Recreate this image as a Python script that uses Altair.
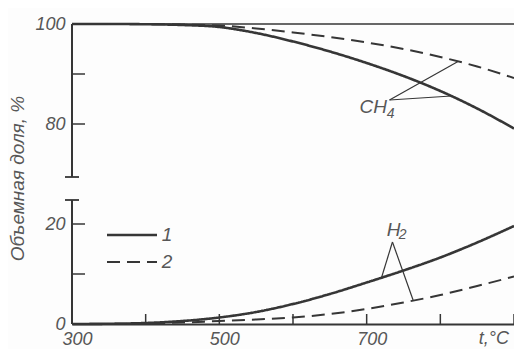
import altair as alt
import pandas as pd

# ---- data ----
temps = [300, 350, 400, 450, 500, 550, 600, 650, 700, 750, 800, 850, 900]
ch4_eq = [100, 100, 99.95, 99.8, 99.4, 98.2, 96.5, 94.5, 92.2, 89.6, 86.6, 83.1, 79.1]     # curve 1
ch4_kin = [100, 100, 100, 99.9, 99.7, 99.1, 98.3, 97.4, 96.3, 95.0, 93.4, 91.5, 89.2]     # curve 2
h2_eq = [0, 0.05, 0.2, 0.6, 1.3, 2.4, 4.0, 6.0, 8.3, 10.7, 13.3, 16.3, 19.6]              # curve 1
h2_kin = [0, 0, 0.1, 0.3, 0.6, 0.9, 1.3, 2.0, 3.0, 4.3, 5.8, 7.6, 9.5]                     # curve 2

x_labels = [300, 500, 700]
x_ticks = [400, 500, 600, 700, 800, 900]
y_ticks_lower = [10, 20]
y_ticks_upper = [80, 90]

# broken axis: upper segment (CH4) is shifted down by this many units
SHIFT = 40
lower_top = 24.8
upper_bottom = 69.4

INK = "#363636"
TXT = "#575757"
FONT = "Liberation Sans"

rows = []
for gas, curve, vals in [("CH4", "1", ch4_eq), ("CH4", "2", ch4_kin),
                         ("H2", "1", h2_eq), ("H2", "2", h2_kin)]:
    for t, v in zip(temps, vals):
        rows.append({"gas": gas, "curve": curve, "t": t, "v": v,
                     "d": v - SHIFT if gas == "CH4" else v, "key": gas + curve})
df = pd.DataFrame(rows)

xs = alt.Scale(domain=[300, 900], nice=False, zero=False)
ys = alt.Scale(domain=[0, 60], nice=False, zero=False)

label_expr = ("datum.value >= 40 ? format(datum.value + %d, 'd') : datum.label" % SHIFT)

lines = alt.Chart(df).mark_line(color=INK, interpolate="monotone").encode(
    x=alt.X("t:Q", scale=xs, axis=alt.Axis(
        values=x_labels, title=None, grid=False, ticks=False, labelOffset=5,
        labelFlush=False, labelPadding=6, labelFontSize=18, labelFontStyle="italic",
        labelColor=TXT, labelFont=FONT, domainColor=INK, domainWidth=2)),
    y=alt.Y("d:Q", scale=ys, axis=alt.Axis(
        values=[0, 20, 40, 60], labelExpr=label_expr, grid=False, ticks=False,
        domain=False, labelPadding=7, labelFontSize=18, labelFontStyle="italic",
        labelFlush=False, labelColor=TXT, labelFont=FONT, title="Объемная доля, %",
        titleFontSize=19, titleFontStyle="italic", titleFontWeight="normal",
        titleColor=TXT, titleFont=FONT, titleX=-45, titleY=154)),
    strokeDash=alt.StrokeDash("curve:N", scale=alt.Scale(domain=["1", "2"], range=[[1, 0], [13, 7]]), legend=None),
    strokeWidth=alt.StrokeWidth("curve:N", scale=alt.Scale(domain=["1", "2"], range=[2.6, 2.0]), legend=None),
    detail="key:N",
)

# y axis segments
seg_df = pd.DataFrame({"t": [300, 300], "y0": [0, upper_bottom - SHIFT], "y1": [lower_top, 60]})
segs = alt.Chart(seg_df).mark_rule(color=INK, strokeWidth=2).encode(
    x=alt.X("t:Q", scale=xs), y=alt.Y("y0:Q", scale=ys), y2="y1:Q")

# break marks
brk_df = pd.DataFrame({"y": [lower_top, upper_bottom - SHIFT]})
brks = alt.Chart(brk_df).mark_rule(color=INK, strokeWidth=1.8).encode(
    x=alt.value(-7), x2=alt.value(7), y=alt.Y("y:Q", scale=ys))

# inward y ticks
yt_df = pd.DataFrame({"y": y_ticks_lower + [v - SHIFT for v in y_ticks_upper]})
yticks = alt.Chart(yt_df).mark_rule(color=INK, strokeWidth=1.5).encode(
    x=alt.value(0), x2=alt.value(13), y=alt.Y("y:Q", scale=ys))

# inward x ticks
xt_df = pd.DataFrame({"t": x_ticks})
xticks = alt.Chart(xt_df).mark_rule(color=INK, strokeWidth=1.5).encode(
    x=alt.X("t:Q", scale=xs), y=alt.value(300), y2=alt.value(290))

# top frame line
top_df = pd.DataFrame({"y": [100 - SHIFT]})
top = alt.Chart(top_df).mark_rule(color=INK, strokeWidth=1.6).encode(
    x=alt.value(0), x2=alt.value(442), y=alt.Y("y:Q", scale=ys))

# annotation leader lines
ann_df = pd.DataFrame({
    "t0": [731, 731, 735, 735],
    "d0": [44.8, 44.8, 16.4, 16.4],
    "t1": [824, 815, 720, 763],
    "d1": [52.5, 45.6, 9.2, 4.8],
})
ann = alt.Chart(ann_df).mark_rule(color=INK, strokeWidth=1.2).encode(
    x=alt.X("t0:Q", scale=xs), y=alt.Y("d0:Q", scale=ys), x2="t1:Q", y2="d1:Q")

lab_df = pd.DataFrame({
    "t": [709, 736.5],
    "d": [43.4, 18.8],
    "txt": ["CH", "H"],
})
labs = alt.Chart(lab_df).mark_text(font=FONT, fontSize=19, fontStyle="italic", color=TXT).encode(
    x=alt.X("t:Q", scale=xs), y=alt.Y("d:Q", scale=ys), text="txt:N")
sub_df = pd.DataFrame({"t": [732.5, 749], "d": [42.0, 17.8], "txt": ["4", "2"]})
subs = alt.Chart(sub_df).mark_text(font=FONT, fontSize=14, fontStyle="italic", color=TXT).encode(
    x=alt.X("t:Q", scale=xs), y=alt.Y("d:Q", scale=ys), text="txt:N")

# legend
leg_df = pd.DataFrame({"curve": ["1", "2"], "y": [211, 238]})
leg_lines = alt.Chart(leg_df).mark_rule(color=INK).encode(
    x=alt.value(35), x2=alt.value(85), y=alt.Y("y:Q", scale=None),
    strokeDash=alt.StrokeDash("curve:N", scale=alt.Scale(domain=["1", "2"], range=[[1, 0], [9, 4]]), legend=None),
    strokeWidth=alt.StrokeWidth("curve:N", scale=alt.Scale(domain=["1", "2"], range=[2.6, 1.8]), legend=None),
)
leg_text = alt.Chart(leg_df).mark_text(font=FONT, fontSize=19, fontStyle="italic", color=TXT).encode(
    x=alt.value(95), y=alt.Y("y:Q", scale=None), text="curve:N")

unit = alt.Chart(pd.DataFrame({"txt": ["t,°C"]})).mark_text(
    font=FONT, fontSize=18, fontStyle="italic", color=TXT, align="right",
    baseline="middle").encode(
    x=alt.value(437), y=alt.value(315), text="txt:N")

chart = alt.layer(top, segs, brks, yticks, xticks, lines, ann, labs, subs,
                  leg_lines, leg_text, unit).properties(
    width=442, height=300,
    autosize=alt.AutoSizeParams(type="none"),
    padding={"left": 64, "top": 16, "right": 0, "bottom": 25},
    background="#fdfdfd",
).configure_view(strokeWidth=0)

chart.save("out.html", embed_options={"renderer": "svg", "actions": False})
